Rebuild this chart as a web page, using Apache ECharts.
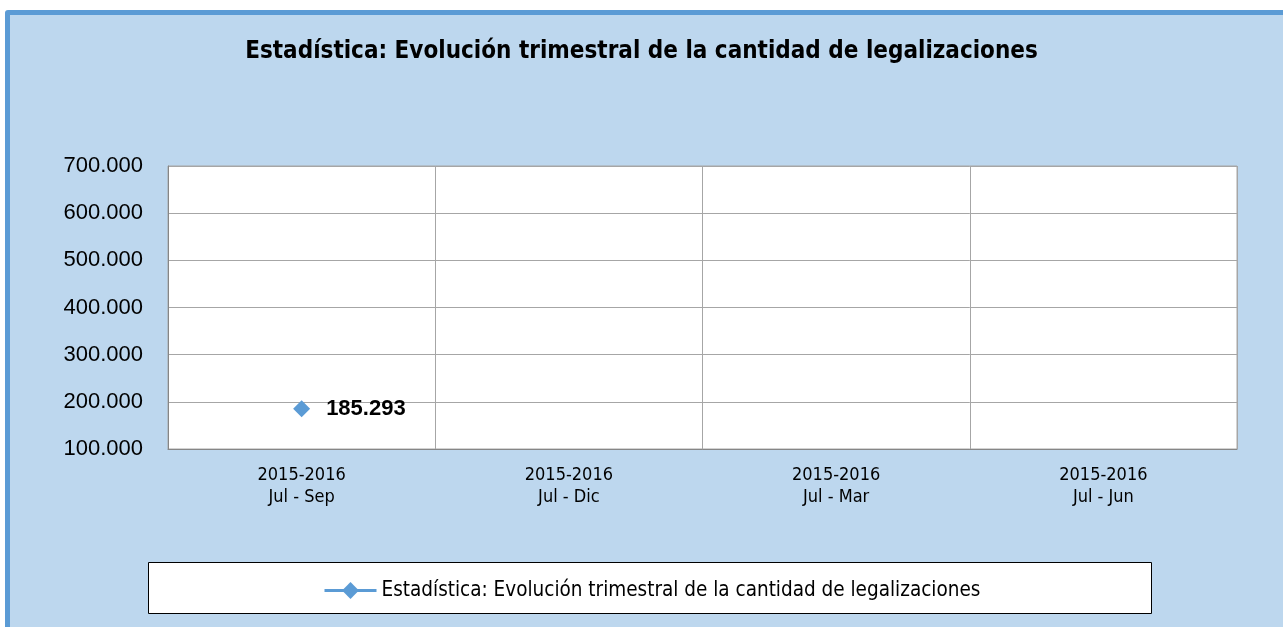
<!DOCTYPE html>
<html>
<head>
<meta charset="utf-8">
<script src="https://cdn.jsdelivr.net/npm/echarts@6/dist/echarts.min.js"></script>
<style>
html,body{margin:0;padding:0;background:#ffffff;overflow:hidden;width:1283px;height:627px;}
#frame{position:absolute;left:5px;top:10px;width:1300px;height:700px;background:#BDD7EE;border:5px solid #5B9BD5;border-radius:3px;}
#chart{position:absolute;left:0;top:0;width:1283px;height:627px;}
</style>
</head>
<body>
<div id="frame"></div>
<div id="chart"></div>
<script>
const titleText = 'Estadística: Evolución trimestral de la cantidad de legalizaciones';
const seriesName = 'Estadística: Evolución trimestral de la cantidad de legalizaciones';
const categories = ['2015-2016\nJul - Sep', '2015-2016\nJul - Dic', '2015-2016\nJul - Mar', '2015-2016\nJul - Jun'];
const values = [185293, null, null, null];
const yMin = 100000, yMax = 700000, yStep = 100000;

function fmt(v){ return String(Math.round(v)).replace(/\B(?=(\d{3})+(?!\d))/g, '.'); }

const NARROW = '"DejaVu Sans Condensed", "Liberation Sans", sans-serif';
const chart = echarts.init(document.getElementById('chart'), null, {renderer:'canvas'});
chart.setOption({
  backgroundColor: 'transparent',
  animation: false,
  title: {
    text: titleText, left: 'center', top: 35,
    textStyle: {fontFamily: NARROW, fontWeight: 'bold', fontSize: 24, color: '#000'}
  },
  graphic: [{
    type: 'rect', left: 148, top: 562, shape: {width: 1003, height: 51},
    style: {fill: '#ffffff', stroke: '#000000', lineWidth: 1}, z: 0
  }],
  legend: {
    data: [seriesName], left: 318, top: 575,
    itemWidth: 52, itemHeight: 21, itemGap: 3,
    lineStyle: {width: 3},
    textStyle: {fontFamily: NARROW, fontSize: 20.5, color: '#000'}
  },
  grid: {left: 168, top: 166, width: 1069, height: 283, show: true, borderColor: '#A6A6A6', borderWidth: 1, backgroundColor: '#ffffff'},
  xAxis: {
    type: 'category', data: categories, boundaryGap: true,
    axisLine: {show: true, lineStyle: {color: '#868686', width: 1}},
    axisTick: {show: false},
    splitLine: {show: true, lineStyle: {color: '#A6A6A6', width: 1}},
    axisLabel: {margin: 15, fontFamily: NARROW, fontSize: 18, color: '#000', lineHeight: 22}
  },
  yAxis: {
    type: 'value', min: yMin, max: yMax, interval: yStep,
    axisLine: {show: true, lineStyle: {color: '#868686', width: 1}},
    axisTick: {show: false},
    splitLine: {show: true, lineStyle: {color: '#A6A6A6', width: 1}},
    axisLabel: {margin: 25, fontFamily: 'Liberation Sans', fontSize: 22, color: '#000', formatter: fmt}
  },
  series: [{
    name: seriesName, type: 'line', data: values,
    symbol: 'diamond', symbolSize: 17, connectNulls: false,
    itemStyle: {color: '#5B9BD5'},
    lineStyle: {color: '#5B9BD5', width: 3},
    label: {show: true, position: 'right', distance: 16, fontFamily: 'Liberation Sans', fontWeight: 'bold', fontSize: 22, color: '#000',
      formatter: p => fmt(p.value)}
  }]
});
</script>
</body>
</html>
